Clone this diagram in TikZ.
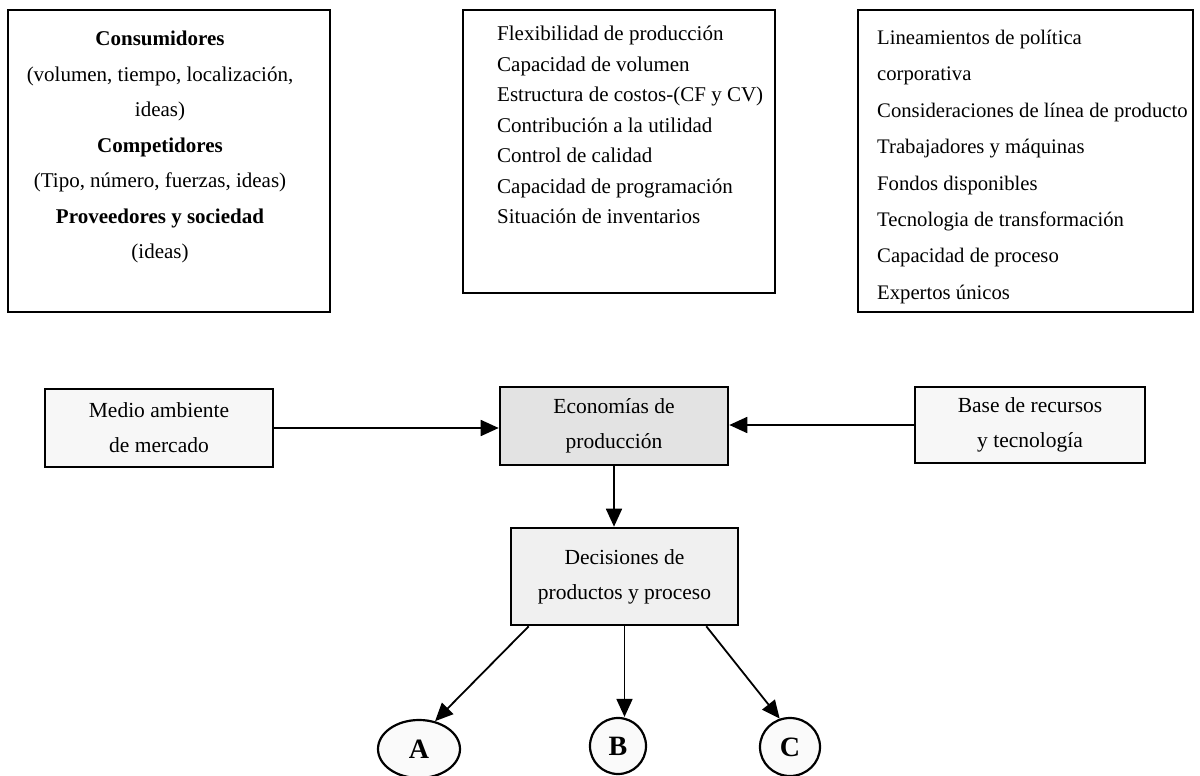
\documentclass[tikz,border=0pt]{standalone}
\usepackage{fontspec}
\setmainfont{Liberation Serif}
\usetikzlibrary{arrows.meta,shapes.geometric}
\begin{document}
\begin{tikzpicture}[x=1pt,y=-1pt,
  topbox/.style={draw, line width=1.8pt, inner sep=0pt},
  midbox/.style={draw, line width=2.6pt, inner sep=0pt, align=center, font=\fontsize{21.5}{35}\selectfont},
  txt/.style={inner sep=0pt},
  letter/.style={draw, line width=2.2pt, ellipse, inner sep=0pt, fill=gray!4, font=\fontsize{28}{28}\selectfont\bfseries},
  arr/.style={line width=1.8pt, -{Triangle[length=18pt,width=16pt]}}
]
\useasboundingbox (0,0) rectangle (1200,776);

% top boxes
\node[topbox, minimum width=322pt, minimum height=302pt] (mktbox) at (169,161) {};
\node[topbox, minimum width=312pt, minimum height=283pt] (prodbox) at (619,151.5) {};
\node[topbox, minimum width=335pt, minimum height=302pt] (resbox) at (1025.5,161) {};

\node[txt, align=center, anchor=north, font=\fontsize{21}{35.5}\selectfont] (mkttxt) at (160,31) {\textbf{Consumidores}\\(volumen, tiempo, localización,\\ideas)\\\textbf{Competidores}\\(Tipo, número, fuerzas, ideas)\\\textbf{Proveedores y sociedad}\\(ideas)};

\node[txt, align=left, anchor=north west, font=\fontsize{21}{30.5}\selectfont] (prodtxt) at (497,26) {Flexibilidad de producción\\Capacidad de volumen\\Estructura de costos-(CF y CV)\\Contribución a la utilidad\\Control de calidad\\Capacidad de programación\\Situación de inventarios};

\node[txt, align=left, anchor=north west, font=\fontsize{20.7}{36.4}\selectfont] (restxt) at (877,30) {Lineamientos de política\\corporativa\\Consideraciones de línea de producto\\Trabajadores y máquinas\\Fondos disponibles\\Tecnologia de transformación\\Capacidad de proceso\\Expertos únicos};

% middle boxes
\node[midbox, fill=gray!6, minimum width=228pt, minimum height=78pt] (med) at (159,428) {Medio ambiente\\de mercado};
\node[midbox, fill=gray!22, minimum width=228pt, minimum height=78pt] (eco) at (614,426) {Economías de\\producción};
\node[midbox, fill=gray!6, minimum width=230pt, minimum height=76pt] (base) at (1030,425) {Base de recursos\\y tecnología};
\node[midbox, fill=gray!12, minimum width=227pt, minimum height=97pt] (dec) at (624.5,576.5) {Decisiones de\\productos y proceso};

% circles
\node[letter, minimum width=82pt, minimum height=58pt] (A) at (419,749) {A};
\node[letter, minimum width=56pt, minimum height=56pt] (B) at (618,746) {B};
\node[letter, minimum width=60pt, minimum height=58pt] (C) at (790,747) {C};

% connectors
\draw[arr] (med.east) -- (med.east -| eco.west);
\draw[arr] (base.west) -- (base.west -| eco.east);
\draw[arr] (eco.south) -- (eco.south |- dec.north);
\draw[arr] ([xshift=19pt]dec.south west) -- (A.60);
\draw[arr] (dec.south) -- (dec.south |- B.north);
\draw[arr] ([xshift=-33pt]dec.south east) -- (C.110);
\end{tikzpicture}
\end{document}
